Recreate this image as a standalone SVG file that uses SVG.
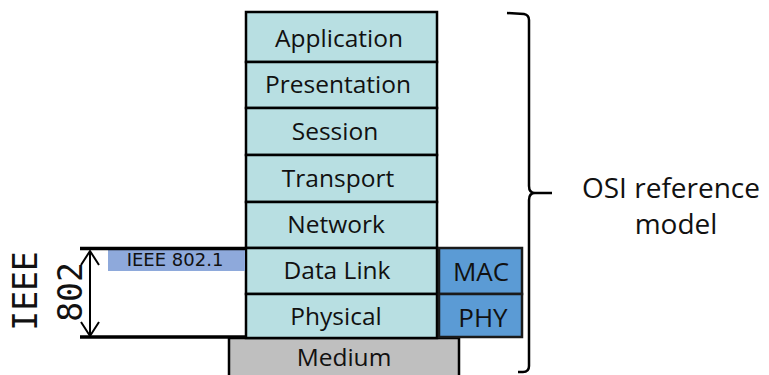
<svg xmlns="http://www.w3.org/2000/svg" width="769" height="375" viewBox="0 0 769 375">
<style>
.layer{fill:#B8DFE2;stroke:#000;stroke-width:2.5}
.sub{fill:#5B9BD5;stroke:#1a1a1a;stroke-width:2.5}
.lbl{font-family:"Open Sans","Noto Sans",sans-serif;font-size:24.5px;fill:#111;text-anchor:middle}
.big{font-family:"Open Sans","Noto Sans",sans-serif;font-size:28px;fill:#111;text-anchor:middle}
.mono{font-family:"DejaVu Sans Mono",monospace;font-size:33px;fill:#111;text-anchor:middle}
.line{stroke:#000;fill:none}
</style>
<rect width="769" height="375" fill="#fff"/>
<g id="medium">
<rect x="229" y="338" width="230" height="45" fill="#BFBFBF" stroke="#000" stroke-width="2.5"/>
<text class="lbl" x="344" y="366">Medium</text>
</g>
<g id="application"><rect class="layer" x="246" y="12" width="191" height="50"/><text class="lbl" x="339" y="47">Application</text></g>
<g id="presentation"><rect class="layer" x="246" y="62" width="191" height="46"/><text class="lbl" x="338" y="93">Presentation</text></g>
<g id="session"><rect class="layer" x="246" y="108" width="191" height="47"/><text class="lbl" x="335" y="140">Session</text></g>
<g id="transport"><rect class="layer" x="246" y="155" width="191" height="47"/><text class="lbl" x="338" y="187">Transport</text></g>
<g id="network"><rect class="layer" x="246" y="202" width="191" height="46"/><text class="lbl" x="336" y="233">Network</text></g>
<g id="datalink"><rect class="layer" x="246" y="248" width="191" height="46"/><text class="lbl" x="337" y="279">Data Link</text></g>
<g id="physical"><rect class="layer" x="246" y="294" width="191" height="44"/><text class="lbl" x="336" y="325">Physical</text></g>
<g id="mac"><rect class="sub" x="439" y="248" width="83" height="46"/><text class="lbl" x="481" y="281" style="font-size:26px">MAC</text></g>
<g id="phy"><rect class="sub" x="439" y="294" width="83" height="43"/><text class="lbl" x="483" y="327" style="font-size:26px">PHY</text></g>
<g id="ieee8021">
<rect x="108" y="250" width="137" height="21" fill="#8EA9DB"/>
<text x="175" y="266" style="font-family:'DejaVu Sans',sans-serif;font-size:18px;fill:#111;text-anchor:middle">IEEE 802.1</text>
</g>
<g id="ieee802">
<text class="mono" transform="translate(37,291) rotate(-90)">IEEE</text>
<text class="mono" transform="translate(82,292) rotate(-90)">802</text>
</g>
<g id="connectors">
<line class="line" x1="80" y1="248.5" x2="246" y2="248.5" stroke-width="3.5"/>
<line class="line" x1="80" y1="337" x2="246" y2="337" stroke-width="3.5"/>
<line class="line" x1="90" y1="251" x2="90" y2="336" stroke-width="2"/>
<polyline class="line" points="81,265 90,251 99,265" stroke-width="2"/>
<polyline class="line" points="81,322 90,336 99,322" stroke-width="2"/>
<path class="line" stroke-width="2.5" d="M507,13 L524,14 Q529,15 529,20 L529,186 Q529,193 535,193 L552,193 M535,193 Q529,193 529,200 L529,366 Q529,372 523,372 L518,372"/>
</g>
<g id="osi">
<text class="big" x="671" y="198">OSI reference</text>
<text class="big" x="676" y="234">model</text>
</g>
</svg>
